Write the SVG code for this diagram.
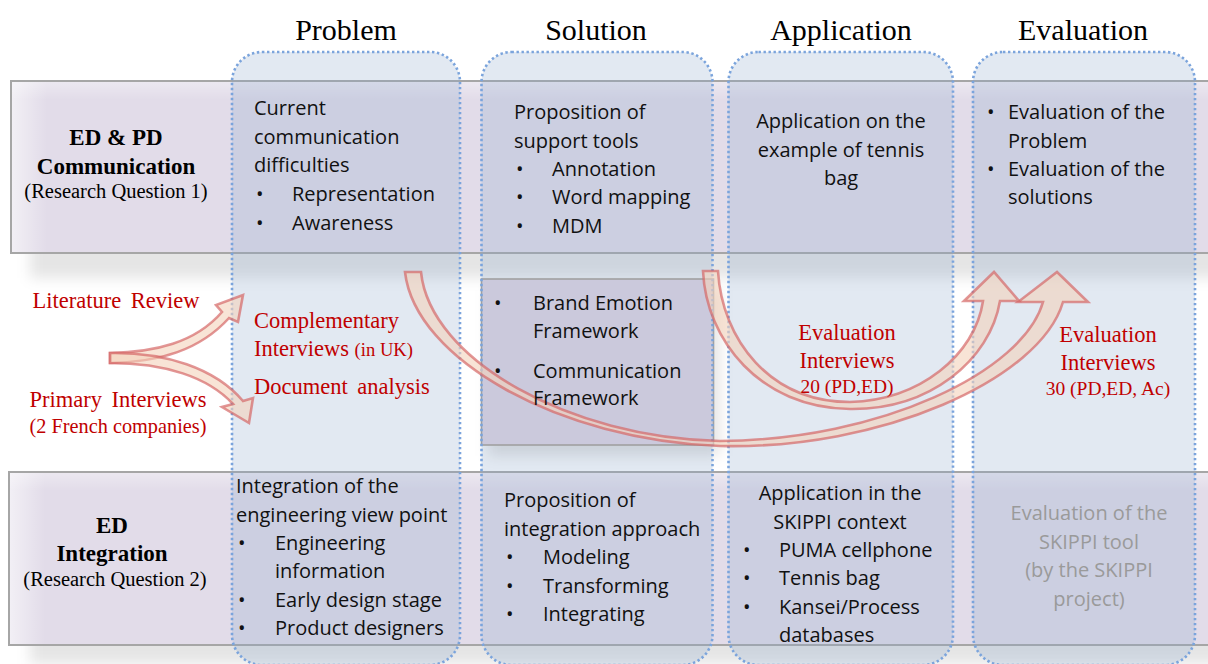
<svg xmlns="http://www.w3.org/2000/svg" width="1208" height="664" viewBox="0 0 1208 664">
<defs>
<style>
.hdr{font-family:"Liberation Serif","Times New Roman",serif;font-size:30px;fill:#000;text-anchor:middle}
.rowb{font-family:"Liberation Serif","Times New Roman",serif;font-size:23px;font-weight:bold;fill:#000;text-anchor:middle}
.rowr{font-family:"Liberation Serif","Times New Roman",serif;font-size:20.5px;fill:#000;text-anchor:middle}
.t{font-family:"Open Sans","Noto Sans",sans-serif;font-size:20px;fill:#111}
.c{text-anchor:middle}
.g{fill:#9a9a9a}
.red{font-family:"Liberation Serif","Times New Roman",serif;font-size:22.5px;fill:#c00000}
.rs{font-size:19.5px}
.band{fill:#e2dce9;stroke:#a6a6a6;stroke-width:2}
.col{fill:#8ba7cb;fill-opacity:0.25}
.colb{fill:none;stroke:#7ba4dc;stroke-width:2.6;stroke-dasharray:2.4 2.6}
.box{fill:#cbc9dc;stroke:#a0a0a0;stroke-width:1.6}
.arr{fill:#f3d2bb;fill-opacity:0.6;stroke:#d46464;stroke-opacity:0.68;stroke-width:2.6}
.sh{fill:#000;fill-opacity:0.1}
</style>
<filter id="blur" x="-10%" y="-40%" width="120%" height="180%"><feGaussianBlur stdDeviation="7"/></filter>
<linearGradient id="lglow" x1="0" y1="0" x2="1" y2="0">
<stop offset="0" stop-color="#ffffff" stop-opacity="0.55"/>
<stop offset="1" stop-color="#ffffff" stop-opacity="0"/>
</linearGradient>
<linearGradient id="tglow" x1="0" y1="0" x2="0" y2="1">
<stop offset="0" stop-color="#ffffff" stop-opacity="0.35"/>
<stop offset="1" stop-color="#ffffff" stop-opacity="0"/>
</linearGradient>
</defs>

<g id="bands">
<rect class="sh" x="30" y="100" width="1200" height="178" filter="url(#blur)"/>
<rect class="sh" x="30" y="492" width="1200" height="172" filter="url(#blur)"/>
<rect class="band" x="11" y="81" width="1210" height="172"/>
<rect x="12" y="82" width="35" height="170" fill="url(#lglow)"/>
<rect x="12" y="82" width="1200" height="18" fill="url(#tglow)"/>
<rect class="band" x="9" y="472" width="1212" height="173"/>
<rect x="10" y="473" width="35" height="171" fill="url(#lglow)"/>
<rect x="10" y="473" width="1200" height="18" fill="url(#tglow)"/>
</g>

<g id="columns">
<rect class="col" x="232" y="52" width="228" height="613" rx="30"/>
<rect class="col" x="481.5" y="52" width="231" height="613" rx="30"/>
<rect class="col" x="728.5" y="52" width="224.5" height="613" rx="30"/>
<rect class="col" x="973" y="52" width="222" height="613" rx="30"/>
</g>

<g id="box-frameworks">
<rect class="sh" x="488" y="290" width="232" height="166" filter="url(#blur)"/>
<rect class="box" x="481.5" y="279" width="232" height="166"/>
</g>

<g id="column-outlines">
<rect class="colb" x="232" y="52" width="228" height="613" rx="30"/>
<rect class="colb" x="481.5" y="52" width="231" height="613" rx="30"/>
<rect class="colb" x="728.5" y="52" width="224.5" height="613" rx="30"/>
<rect class="colb" x="973" y="52" width="222" height="613" rx="30"/>
</g>

<g id="connectors">
<path class="arr" d="M110,353 C155,352 195,343 222,312 L216,305 L243,295 L238,322 L229,318 C200,350 160,362 110,363 Z"/>
<path class="arr" d="M110,353 C165,352 215,368 243,401 L253,398 L249,423 L222,407 L233,404 C208,377 165,363 110,363 Z"/>
<path class="arr" d="M405,272 C415,360 560,440 720,446 C880,450 1040,380 1063,302 L1088,302 L1057,272 L1018,302 L1043,302 C1023,372 880,440 720,441 C570,438 430,360 421,272 Z"/>
<path class="arr" d="M703,271 C706,340 760,408 850,409 C930,410 990,360 1000,301 L1019,301 L994,272 L964,301 L983,301 C975,355 920,400 850,402 C770,402 722,340 718,271 Z"/>
</g>

<g id="headers">
<text class="hdr" x="346" y="40">Problem</text>
<text class="hdr" x="596" y="40">Solution</text>
<text class="hdr" x="841" y="40">Application</text>
<text class="hdr" x="1083" y="40">Evaluation</text>
</g>

<g id="row-communication">
<text class="rowb" x="116" y="145">ED &amp; PD</text>
<text class="rowb" x="116" y="174">Communication</text>
<text class="rowr" x="116" y="198">(Research Question 1)</text>
</g>

<g id="row-integration">
<text class="rowb" x="112" y="533">ED</text>
<text class="rowb" x="112" y="561">Integration</text>
<text class="rowr" x="115" y="586">(Research Question 2)</text>
</g>

<g id="problem-communication">
<text class="t" x="254" y="115">Current</text>
<text class="t" x="254" y="143.5">communication</text>
<text class="t" x="254" y="172">difficulties</text>
<text class="t" x="256" y="201">•</text><text class="t" x="292" y="201">Representation</text>
<text class="t" x="256" y="229.5">•</text><text class="t" x="292" y="229.5">Awareness</text>
</g>

<g id="solution-communication">
<text class="t" x="514" y="119">Proposition of</text>
<text class="t" x="514" y="147.5">support tools</text>
<text class="t" x="516" y="176">•</text><text class="t" x="552" y="176">Annotation</text>
<text class="t" x="516" y="204">•</text><text class="t" x="552" y="204">Word mapping</text>
<text class="t" x="516" y="232.5">•</text><text class="t" x="552" y="232.5">MDM</text>
</g>

<g id="application-communication">
<text class="t c" x="841" y="128">Application on the</text>
<text class="t c" x="841" y="156.5">example of tennis</text>
<text class="t c" x="841" y="185">bag</text>
</g>

<g id="evaluation-communication">
<text class="t" x="987" y="119">•</text><text class="t" x="1008" y="119">Evaluation of the</text>
<text class="t" x="1008" y="147.5">Problem</text>
<text class="t" x="987" y="176">•</text><text class="t" x="1008" y="176">Evaluation of the</text>
<text class="t" x="1008" y="204">solutions</text>
</g>

<g id="sources">
<text class="red" x="116" y="308" text-anchor="middle" word-spacing="4">Literature Review</text>
<text class="red" x="118" y="407" text-anchor="middle" word-spacing="4">Primary Interviews</text>
<text class="red" x="118" y="433" text-anchor="middle" style="font-size:20.3px">(2 French companies)</text>
</g>

<g id="problem-methods">
<text class="red" x="254" y="328">Complementary</text>
<text class="red" x="254" y="356">Interviews <tspan style="font-size:18.6px">(in UK)</tspan></text>
<text class="red" x="254" y="394" word-spacing="4">Document analysis</text>
</g>

<g id="frameworks">
<text class="t" x="494" y="310">•</text><text class="t" x="533" y="310">Brand Emotion</text>
<text class="t" x="533" y="338">Framework</text>
<text class="t" x="494" y="377.5">•</text><text class="t" x="533" y="377.5">Communication</text>
<text class="t" x="533" y="405">Framework</text>
</g>

<g id="eval-interviews-20">
<text class="red" x="847" y="339.5" text-anchor="middle">Evaluation</text>
<text class="red" x="847" y="367.5" text-anchor="middle">Interviews</text>
<text class="red rs" x="847" y="393" text-anchor="middle">20 (PD,ED)</text>
</g>

<g id="eval-interviews-30">
<text class="red" x="1108" y="341.5" text-anchor="middle">Evaluation</text>
<text class="red" x="1108" y="369.5" text-anchor="middle">Interviews</text>
<text class="red rs" x="1108" y="395" text-anchor="middle">30 (PD,ED, Ac)</text>
</g>

<g id="problem-integration">
<text class="t" x="236" y="493">Integration of the</text>
<text class="t" x="236" y="521.5">engineering view point</text>
<text class="t" x="238" y="550">•</text><text class="t" x="275" y="550">Engineering</text>
<text class="t" x="275" y="578">information</text>
<text class="t" x="238" y="606.5">•</text><text class="t" x="275" y="606.5">Early design stage</text>
<text class="t" x="238" y="634.5">•</text><text class="t" x="275" y="634.5">Product designers</text>
</g>

<g id="solution-integration">
<text class="t" x="504" y="507">Proposition of</text>
<text class="t" x="504" y="535.5">integration approach</text>
<text class="t" x="506" y="564">•</text><text class="t" x="543" y="564">Modeling</text>
<text class="t" x="506" y="592.5">•</text><text class="t" x="543" y="592.5">Transforming</text>
<text class="t" x="506" y="621">•</text><text class="t" x="543" y="621">Integrating</text>
</g>

<g id="application-integration">
<text class="t c" x="840" y="500">Application in the</text>
<text class="t c" x="840" y="528.5">SKIPPI context</text>
<text class="t" x="743" y="557">•</text><text class="t" x="779" y="557">PUMA cellphone</text>
<text class="t" x="743" y="585">•</text><text class="t" x="779" y="585">Tennis bag</text>
<text class="t" x="743" y="613.5">•</text><text class="t" x="779" y="613.5">Kansei/Process</text>
<text class="t" x="779" y="642">databases</text>
</g>

<g id="evaluation-integration">
<text class="t c g" x="1089" y="520">Evaluation of the</text>
<text class="t c g" x="1089" y="548.5">SKIPPI tool</text>
<text class="t c g" x="1089" y="577">(by the SKIPPI</text>
<text class="t c g" x="1089" y="605.5">project)</text>
</g>
</svg>
